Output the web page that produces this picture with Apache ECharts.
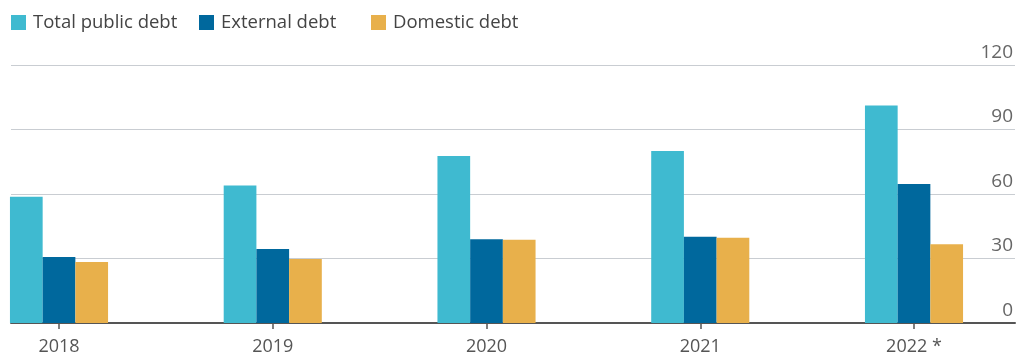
<!DOCTYPE html>
<html>
<head>
<meta charset="utf-8">
<script src="https://cdn.jsdelivr.net/npm/echarts@6/dist/echarts.min.js"></script>
<style>html,body{margin:0;padding:0;background:#fff}#c{width:1020px;height:358px}</style>
</head>
<body>
<div id="c"></div>
<script>
var categories = ['2018', '2019', '2020', '2021', '2022 *'];
var totalDebt = [58.7, 64.0, 77.7, 80.0, 101.2];
var externalDebt = [30.7, 34.4, 38.9, 40.1, 64.7];
var domesticDebt = [28.4, 29.8, 38.7, 39.7, 36.6];
var yTicks = [0, 30, 60, 90, 120];

var FONT = 'Open Sans';
var idx = categories.map(function (c, i) { return i; });
function pairs(arr) { return arr.map(function (v, i) { return [i, v]; }); }

var legendStyle = {fontFamily: FONT, fontSize: 18.5, color: '#444', padding: [0, 0, 0, 2]};
function legendAt(left, name) {
  return {left: left, top: 13, padding: 0, itemWidth: 15, itemHeight: 15, icon: 'rect',
          textStyle: legendStyle, data: [name], selectedMode: false};
}

var chart = echarts.init(document.getElementById('c'), null, {renderer: 'canvas'});
chart.setOption({
  animation: false,
  backgroundColor: '#fff',
  textStyle: {fontFamily: FONT},
  legend: [
    legendAt(11, 'Total public debt'),
    legendAt(199, 'External debt'),
    legendAt(371, 'Domestic debt')
  ],
  grid: {left: 11, right: 5, top: 65, bottom: 35, containLabel: false},
  xAxis: {
    type: 'value', min: -0.2246, max: 4.4725,
    splitLine: {show: false},
    axisLine: {show: true, onZero: false, lineStyle: {color: '#555', width: 2}},
    axisTick: {show: true, customValues: idx, length: 6, lineStyle: {color: '#555', width: 1.5}},
    axisLabel: {
      customValues: idx, fontFamily: FONT, fontSize: 18, color: '#555', margin: 15,
      formatter: function (v) { return categories[Math.round(v)]; }
    }
  },
  yAxis: {
    type: 'value', position: 'right', min: 0, max: 120, interval: 30,
    axisLine: {show: false}, axisTick: {show: false},
    splitLine: {show: true, lineStyle: {color: '#c9cdd2', width: 1}},
    axisLabel: {
      inside: true, margin: 2, verticalAlign: 'bottom', padding: [0, 0, 3, 0],
      fontFamily: FONT, fontSize: 19, color: '#666',
      formatter: function (v) { return yTicks.indexOf(v) >= 0 ? String(v) : ''; }
    }
  },
  series: [
    {name: 'Total public debt', type: 'bar', data: pairs(totalDebt),
     barWidth: 32.7, barGap: '0%', itemStyle: {color: '#3fbad0'}},
    {name: 'External debt', type: 'bar', data: pairs(externalDebt),
     barWidth: 32.7, barGap: '0%', itemStyle: {color: '#00689d'}},
    {name: 'Domestic debt', type: 'bar', data: pairs(domesticDebt),
     barWidth: 32.7, barGap: '0%', itemStyle: {color: '#e8b04b'}}
  ]
});
</script>
</body>
</html>
